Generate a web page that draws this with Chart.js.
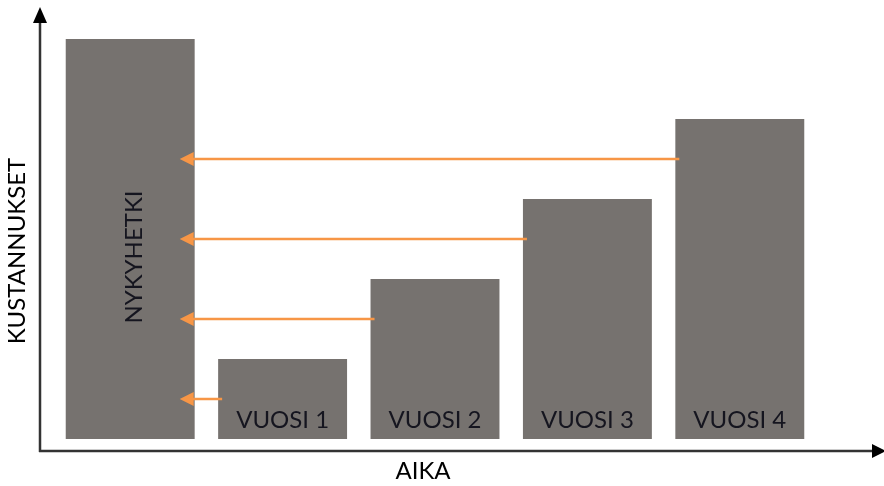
<!DOCTYPE html>
<html>
<head>
<meta charset="utf-8">
<script src="https://cdn.jsdelivr.net/npm/chart.js@4"></script>
<style>
  html, body { margin: 0; padding: 0; background: #fff; }
  #wrap { width: 884px; height: 486px; }
</style>
</head>
<body>
<div id="wrap"><canvas id="costChart" width="884" height="486"></canvas></div>
<script>
var categories = ['NYKYHETKI', 'VUOSI 1', 'VUOSI 2', 'VUOSI 3', 'VUOSI 4'];
var costs = [5, 1, 2, 3, 4];
var arrowLevels = [0.5, 1.5, 2.5, 3.5];
var xTitle = 'AIKA';
var yTitle = 'KUSTANNUKSET';

var barColor = '#76726f';
var orange = '#f79646';
var axisColor = '#333333';
var fontFamily = 'Lato, "Open Sans", sans-serif';

// axes with arrow heads, orange arrows and in-bar labels
var decorPlugin = {
    id: 'decor',
    afterDatasetsDraw: function (chart) {
        var ctx = chart.ctx;
        var area = chart.chartArea;
        var yScale = chart.scales.y;
        var bars = chart.getDatasetMeta(0).data;
        var axisX = area.left - 14;
        var axisY = area.bottom;

        ctx.save();
        // axes
        ctx.strokeStyle = axisColor;
        ctx.fillStyle = axisColor;
        ctx.lineWidth = 2.5;
        ctx.beginPath();
        ctx.moveTo(axisX, axisY + 1);
        ctx.lineTo(axisX, 20);
        ctx.moveTo(axisX - 1, axisY);
        ctx.lineTo(chart.width - 8, axisY);
        ctx.stroke();
        ctx.fillStyle = '#000';
        ctx.beginPath();
        ctx.moveTo(axisX, 7);
        ctx.lineTo(axisX - 7, 23);
        ctx.lineTo(axisX + 7, 23);
        ctx.closePath();
        ctx.fill();
        ctx.beginPath();
        ctx.moveTo(chart.width + 2, axisY);
        ctx.lineTo(chart.width - 12, axisY - 7);
        ctx.lineTo(chart.width - 12, axisY + 7);
        ctx.closePath();
        ctx.fill();

        // orange arrows back to the first bar
        var first = bars[0];
        var tipX = first.x + first.width / 2 - 15;
        ctx.strokeStyle = orange;
        ctx.fillStyle = orange;
        ctx.lineWidth = 2.5;
        for (var i = 1; i < bars.length; i++) {
            var b = bars[i];
            var y = yScale.getPixelForValue(arrowLevels[i - 1]);
            var startX = b.x - b.width / 2 + 4;
            ctx.beginPath();
            ctx.moveTo(startX, y);
            ctx.lineTo(tipX + 10, y);
            ctx.stroke();
            ctx.beginPath();
            ctx.moveTo(tipX, y);
            ctx.lineTo(tipX + 14, y - 7);
            ctx.lineTo(tipX + 14, y + 7);
            ctx.closePath();
            ctx.fill();
        }

        // labels inside bars
        ctx.fillStyle = '#15151f';
        ctx.font = '24px ' + fontFamily;
        ctx.textAlign = 'center';
        ctx.textBaseline = 'middle';
        for (var j = 1; j < bars.length; j++) {
            ctx.fillText(categories[j], bars[j].x, bars[j].base - 19);
        }
        ctx.save();
        ctx.translate(first.x + 4, (first.y + first.base) / 2 + 18);
        ctx.rotate(-Math.PI / 2);
        ctx.fillText(categories[0], 0, 0);
        ctx.restore();

        // axis titles
        ctx.fillStyle = '#000';
        ctx.fillText(xTitle, (area.left + area.right) / 2 - 12, axisY + 20);
        ctx.save();
        ctx.translate(17, (area.top + area.bottom) / 2 + 20);
        ctx.rotate(-Math.PI / 2);
        ctx.fillText(yTitle, 0, 0);
        ctx.restore();
        ctx.restore();
    }
};

var ctx = document.getElementById('costChart').getContext('2d');
var costChart = new Chart(ctx, {
    type: 'bar',
    data: {
        labels: categories,
        datasets: [{
            data: costs,
            backgroundColor: barColor,
            borderWidth: 0,
            categoryPercentage: 1,
            barPercentage: 0.846
        }]
    },
    options: {
        responsive: false,
        animation: false,
        layout: { padding: { left: 54, right: 68, top: 11, bottom: 35 } },
        plugins: { legend: { display: false }, tooltip: { enabled: false } },
        scales: {
            x: { display: false },
            y: { display: false, min: -0.15, max: 5.35 }
        }
    },
    plugins: [decorPlugin]
});
</script>
</body>
</html>
